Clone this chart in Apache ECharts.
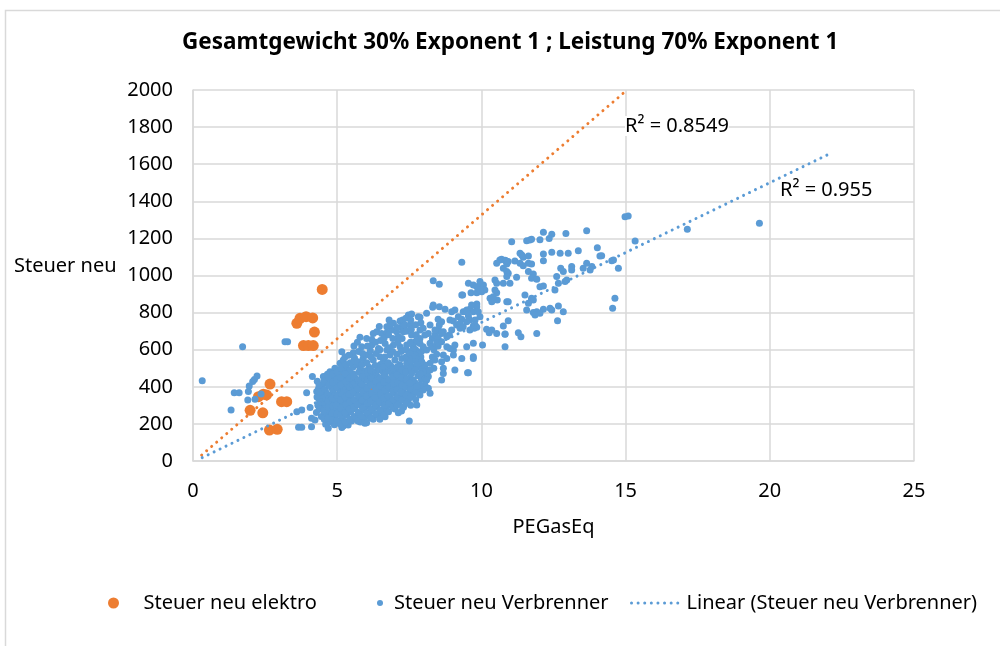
<!DOCTYPE html>
<html>
<head>
<meta charset="utf-8">
<script src="https://cdn.jsdelivr.net/npm/echarts@6/dist/echarts.min.js"></script>
<style>
html,body{margin:0;padding:0;background:#fff;}
#main{width:1000px;height:646px;}
</style>
</head>
<body>
<div id="main"></div>
<script>
var titleText = 'Gesamtgewicht 30% Exponent 1 ; Leistung 70% Exponent 1';
var xTicks = [0, 25, 5];
var yTicks = [0, 2000, 200];

// Steuer neu elektro  [PEGasEq, Steuer]
var elektroPts = [
	[6.2,365],
	[4.48,925],[3.6,742],[3.71,769],[3.92,778],[4.15,771],[4.21,695],
	[3.83,622],[4.0,622],[4.17,622],[5.1,481],[2.67,415],[2.27,347],
	[2.44,360],[2.55,356],[3.07,320],[3.25,320],[1.98,273],[2.42,260],
	[2.65,167],[2.92,171]
];

// Steuer neu Verbrenner
var verbrennerPts = [
	// links, vereinzelt
	[0.32,433],[1.32,275],[1.43,368],[1.6,368],[1.72,616],[1.9,329],[1.92,374],[1.95,404],
	[2.07,428],[2.13,440],[2.22,458],[2.15,333],[2.36,361],[3.19,643],[3.28,643],[3.6,266],
	[3.66,182],[3.77,182],[3.77,275],[3.94,368],[4.06,289],[4.11,185],[4.11,230],[4.14,455],
	[4.23,221],[4.29,374],[4.37,333],[4.69,176],[5.16,180],[5.96,203],[7.5,216],
	// dichte Wolke
	[4.28,262],[4.33,300],[4.3,345],[4.35,390],[4.31,430],
	[4.45,240],[4.48,285],[4.42,320],[4.5,360],[4.46,405],[4.52,455],
	[4.6,198],[4.62,255],[4.58,300],[4.65,335],[4.6,372],[4.63,420],[4.66,468],
	[4.76,210],[4.74,270],[4.78,310],[4.72,350],[4.8,395],[4.77,440],[4.75,481],
	[4.9,195],[4.88,240],[4.93,285],[4.91,322],[4.87,365],[4.95,410],[4.92,452],[4.92,500],
	[5.05,205],[5.02,262],[5.08,300],[5.04,340],[5.1,380],[5.06,420],[5.03,460],[5.1,527],
	[5.21,189],[5.18,230],[5.22,275],[5.2,318],[5.25,355],[5.17,398],[5.23,440],[5.2,485],[5.21,544],[5.16,589],
	[5.38,194],[5.33,250],[5.36,295],[5.32,335],[5.4,372],[5.35,415],[5.38,458],[5.33,500],
	[5.5,215],[5.47,265],[5.53,305],[5.48,350],[5.52,390],[5.46,432],[5.55,470],[5.44,491],[5.56,508],[5.56,584],
	[5.65,235],[5.62,282],[5.68,325],[5.64,365],[5.7,405],[5.63,448],[5.67,520],[5.6,555],
	[5.8,210],[5.78,258],[5.83,300],[5.79,342],[5.82,385],[5.77,425],[5.85,465],[5.8,500],[5.85,616],[5.79,667],
	[5.95,230],[5.92,275],[5.98,318],[5.93,360],[5.97,400],[5.9,440],[5.96,485],[5.9,553],[6.02,571],[6.02,661],
	[6.02,206],[6.1,250],[6.08,295],[6.12,338],[6.06,378],[6.13,420],[6.09,462],[6.1,505],[6.15,595],
	[6.25,225],[6.22,272],[6.28,312],[6.24,355],[6.3,398],[6.23,440],[6.27,480],[6.25,544],[6.2,625],[6.25,688],
	[6.42,245],[6.38,290],[6.44,332],[6.4,372],[6.45,415],[6.37,458],[6.43,498],[6.48,562],[6.43,607],[6.37,697],
	[6.55,265],[6.58,310],[6.52,350],[6.57,392],[6.53,435],[6.6,478],[6.6,535],[6.54,688],[6.5,650],
	[6.66,239],[6.7,285],[6.73,330],[6.68,372],[6.72,412],[6.67,455],[6.74,495],[6.72,598],[6.66,634],[6.72,692],[6.72,724],
	[6.86,300],[6.83,345],[6.88,388],[6.84,430],[6.9,472],[6.85,515],[6.83,571],[6.95,625],[6.89,706],[6.83,733],[6.95,742],
	[7.0,280],[7.02,325],[6.98,365],[7.04,408],[7.0,450],[7.05,490],[7.0,544],[7.06,697],[7.12,670],[7.12,260],
	[7.15,310],[7.18,352],[7.14,395],[7.2,435],[7.16,476],[7.18,518],[7.24,553],[7.18,616],[7.18,755],[7.27,760],[7.24,724],
	[7.3,290],[7.33,340],[7.28,380],[7.34,420],[7.3,462],[7.35,500],[7.29,697],[7.35,733],[7.41,527],[7.41,625],
	[7.47,330],[7.5,370],[7.45,410],[7.52,450],[7.48,590],[7.47,787],[7.52,733],[7.58,562],[7.58,679],[7.58,792],
	[7.64,616],[7.65,360],[7.62,510],[7.68,640],[7.66,400],[7.81,778],[7.8,460],[7.87,634],[7.87,706],
	// Wolke, zweite Lage
	[4.38,280],[4.4,370],[4.37,410],
	[4.55,225],[4.53,270],[4.56,315],[4.52,340],[4.57,385],[4.54,430],
	[4.68,230],[4.7,290],[4.69,325],[4.67,360],[4.71,410],[4.7,450],
	[4.84,222],[4.82,258],[4.85,295],[4.83,338],[4.86,380],[4.84,425],[4.85,470],
	[4.98,220],[5.0,252],[4.97,300],[4.99,355],[5.0,395],[4.98,440],[5.0,480],
	[5.12,198],[5.14,245],[5.13,285],[5.12,330],[5.15,365],[5.13,410],[5.12,450],[5.14,500],
	[5.28,210],[5.27,262],[5.3,305],[5.28,345],[5.29,385],[5.3,428],[5.27,470],[5.3,520],[5.27,560],
	[5.43,225],[5.42,280],[5.44,320],[5.41,360],[5.43,400],[5.42,445],[5.45,530],[5.4,570],
	[5.58,240],[5.57,290],[5.59,330],[5.56,372],[5.58,415],[5.57,455],[5.59,540],[5.58,620],
	[5.72,215],[5.73,262],[5.71,305],[5.74,350],[5.72,390],[5.73,435],[5.75,480],[5.72,535],[5.74,590],[5.7,640],
	[5.87,240],[5.88,285],[5.86,328],[5.89,372],[5.87,412],[5.88,455],[5.86,520],[5.88,580],
	[6.03,262],[6.04,310],[6.02,350],[6.04,392],[6.03,435],[6.05,478],[6.03,530],[6.05,620],
	[6.17,232],[6.18,280],[6.16,322],[6.19,365],[6.17,408],[6.18,450],[6.16,490],[6.18,560],[6.2,655],
	[6.33,255],[6.34,300],[6.32,342],[6.35,385],[6.33,428],[6.34,470],[6.32,515],[6.35,580],[6.33,640],
	[6.48,225],[6.49,275],[6.47,320],[6.5,362],[6.48,405],[6.49,448],[6.47,490],[6.5,520],[6.48,600],[6.46,725],
	[6.63,250],[6.64,300],[6.62,340],[6.65,382],[6.63,425],[6.64,465],[6.62,510],[6.65,560],[6.63,665],
	[6.78,265],[6.79,310],[6.77,352],[6.8,398],[6.78,440],[6.79,485],[6.77,530],[6.8,610],[6.78,680],[6.8,760],
	[6.93,290],[6.94,330],[6.92,375],[6.95,418],[6.93,455],[6.94,500],[6.92,590],[6.93,660],
	[7.08,300],[7.09,345],[7.07,385],[7.1,425],[7.08,465],[7.09,510],[7.07,575],[7.1,640],[7.08,720],
	[7.23,270],[7.24,330],[7.22,370],[7.25,410],[7.23,450],[7.24,490],[7.22,590],[7.25,660],
	[7.38,310],[7.39,355],[7.37,400],[7.4,440],[7.38,480],[7.39,560],[7.37,600],[7.4,700],[7.38,770],
	[7.55,300],[7.56,345],[7.54,390],[7.57,430],[7.55,500],[7.56,540],[7.54,640],[7.57,710],[7.55,760],
	[7.72,330],[7.73,375],[7.71,420],[7.73,545],[7.72,600],[7.74,680],[7.72,735],
	[7.9,390],[7.92,440],[7.91,500],[7.9,560],[7.92,590],[7.9,745],
	[8.05,450],[8.12,470],[8.3,560],[8.35,600],[8.3,660],[8.4,680],[8.45,575],[8.5,620],[8.55,700],[8.35,500],
	// 8 bis 10
	[9.32,1071],[8.33,972],[8.54,953],[9.55,958],[9.72,949],[9.95,949],[10.07,949],[9.64,907],[9.84,907],
	[10.01,913],[10.12,922],[9.32,895],[10.53,907],[10.55,868],[10.3,877],[10.36,859],[10.93,859],[9.84,846],
	[9.84,832],[8.33,841],[8.31,829],[8.54,832],[8.74,818],[8.1,796],[7.87,775],[8.97,805],[9.08,814],[9.37,805],
	[9.49,814],[9.6,818],[9.72,805],[9.89,805],[9.95,778],[8.5,764],[8.62,751],[8.54,733],[8.91,760],[9.03,755],
	[9.2,778],[9.32,764],[9.55,782],[9.6,760],[9.49,751],[9.78,760],[9.84,721],[10.18,710],[10.36,706],[10.53,688],
	[10.82,685],[9.6,706],[9.72,728],[9.14,733],[9.26,715],[8.97,706],[8.89,679],[8.68,697],[8.8,670],[8.62,688],
	[8.22,733],[8.39,706],[8.16,688],[8.04,679],[7.98,715],[7.87,661],[7.76,652],[8.5,661],[8.62,643],[8.45,635],
	[8.22,635],[8.28,616],[8.1,598],[7.98,616],[7.81,580],[7.64,598],[7.7,571],[7.52,580],[8.8,616],[8.91,607],
	[9.03,598],[9.03,571],[9.72,635],[9.32,553],[9.72,553],[8.68,571],[8.8,553],[8.62,535],[8.39,544],[8.22,527],
	[8.04,517],[7.93,535],[7.76,517],[8.1,491],[7.98,481],[7.87,472],[7.7,491],[7.58,472],[9.08,491],[9.55,476],
	[8.68,500],[8.68,472],[8.62,437],[8.22,491],[8.16,455],[8.1,437],[8.04,410],[8.16,392],[8.22,365],[7.98,383],
	[7.87,410],[7.76,401],[7.64,437],[7.52,419],[7.87,356],[7.76,302],
	[9.75,715],[9.78,733],[9.72,562],[10.04,625],[9.52,476],[9.35,895],[9.49,805],[10.27,692],[9.26,742],[9.37,724],
	[9.08,625],[9.49,616],[10.41,886],[10.47,922],[9.84,940],[9.95,922],[9.95,967],[9.66,841],
	// rechts
	[14.98,1317],[15.09,1321],[13.65,1241],[12.93,1227],[12.44,1222],[12.15,1233],[12.35,1200],[12.03,1193],
	[11.57,1188],[11.68,1191],[11.74,1195],[11.05,1182],[11.34,1120],[11.4,1111],[11.45,1098],[11.63,1105],
	[12.15,1116],[12.44,1125],[12.73,1120],[13.01,1120],[13.36,1134],[14.02,1150],[14.11,1105],
	[10.64,1084],[10.82,1082],[10.93,1075],[11.16,1078],[12.15,1080],[11.34,1066],[11.45,1053],[11.63,1066],
	[11.74,1062],[13.65,1066],[12.75,1039],[12.84,1021],[13.13,1048],[13.13,1030],[13.53,1039],[13.83,1048],
	[13.77,1030],[14.52,1080],[14.58,1084],[14.75,1039],[14.63,877],[14.55,823],
	[10.76,1039],[10.88,1021],[10.53,1066],[10.88,1062],[10.93,1012],[10.88,994],[10.99,958],[10.47,976],
	[10.53,958],[10.76,958],[11.22,990],[11.63,1021],[11.8,1008],[11.74,985],[11.92,980],[12.61,994],
	[12.96,976],[12.9,967],[12.67,958],[12.55,922],[12.03,940],[12.15,943],[11.51,895],[11.74,877],[11.8,868],
	[11.63,850],[11.57,814],[10.88,859],[12.15,818],[12.38,823],[12.44,814],[12.67,836],[12.84,805],[11.8,800],
	[11.92,805],[12.03,796],[11.86,787],[12.64,756],[10.93,756],[10.76,728],[10.82,683],[11.28,692],[11.37,670],
	[11.92,688],[10.82,616],[10.7,1087],[10.85,1080],
	[15.33,1186],[17.14,1249],[19.64,1281],[14.17,1107]
];

// Trendlinien (Anfang, Ende)
var trendElektro = [[0.3, 32], [15.05, 2000]];
var trendVerbrenner = [[0.32, 18], [22.15, 1662]];
var r2Elektro = 'R² = 0.8549';
var r2Verbrenner = 'R² = 0.955';

var FONT = '"Noto Sans", sans-serif';
var ORANGE = '#ED7D31', BLUE = '#5B9BD5', GRID = '#D9D9D9';
var dots = [0.01, 6.6];

var myChart = echarts.init(document.getElementById('main'));
var option = {
	animation: false,
	backgroundColor: '#fff',
	textStyle: {fontFamily: FONT, color: '#000'},
	title: {
		text: titleText,
		left: 177,
		top: 26,
		textStyle: {fontFamily: FONT, fontSize: 22.5, fontWeight: 'bold', color: '#000'}
	},
	grid: {left: 193, right: 86, top: 90, bottom: 185},
	xAxis: {
		type: 'value',
		min: xTicks[0], max: xTicks[1], interval: xTicks[2],
		name: 'PEGasEq',
		nameLocation: 'middle',
		nameGap: 56,
		nameTextStyle: {fontFamily: FONT, fontSize: 20, color: '#000'},
		axisLine: {show: true, lineStyle: {color: GRID, width: 1.5}},
		axisTick: {show: false},
		axisLabel: {fontFamily: FONT, fontSize: 20, color: '#000', margin: 20},
		splitLine: {show: true, lineStyle: {color: GRID, width: 1.5}}
	},
	yAxis: {
		type: 'value',
		min: yTicks[0], max: yTicks[1], interval: yTicks[2],
		axisLine: {show: true, lineStyle: {color: GRID, width: 1.5}},
		axisTick: {show: false},
		axisLabel: {fontFamily: FONT, fontSize: 20, color: '#000', margin: 20,
			formatter: function(v){ return String(v); }},
		splitLine: {show: true, lineStyle: {color: GRID, width: 1.5}}
	},
	legend: [
		{data: ['Steuer neu elektro'], left: 103, top: 588, itemWidth: 50, itemHeight: 11,
			textStyle: {fontFamily: FONT, fontSize: 20, color: '#000'}},
		{data: ['Steuer neu Verbrenner'], left: 372, top: 588, itemWidth: 18, itemHeight: 6,
			textStyle: {fontFamily: FONT, fontSize: 20, color: '#000'}},
		{data: ['Linear (Steuer neu Verbrenner)'], left: 625, top: 588, itemWidth: 50, itemHeight: 6,
			itemStyle: {opacity: 0},
			lineStyle: {width: 3, type: dots, cap: 'round', color: BLUE},
			textStyle: {fontFamily: FONT, fontSize: 20, color: '#000'}}
	],
	graphic: [
		{type: 'rect', left: 3, top: 8, shape: {width: 1010, height: 660}, silent: true,
			style: {fill: 'none', stroke: GRID, lineWidth: 1.5}},
		{type: 'text', left: 14, top: 256, silent: true,
			style: {text: 'Steuer neu', font: '20px ' + FONT, fill: '#000'}},
		{type: 'text', left: 625, top: 116, silent: true, z: 10,
			style: {text: r2Elektro, font: '20px ' + FONT, fill: '#000', backgroundColor: '#fff'}},
		{type: 'text', left: 780, top: 180, silent: true, z: 10,
			style: {text: r2Verbrenner, font: '20px ' + FONT, fill: '#000'}}
	],
	series: [
		{
			name: 'Steuer neu elektro',
			type: 'scatter',
			symbol: 'circle',
			symbolSize: 11,
			itemStyle: {color: ORANGE, opacity: 1},
			data: elektroPts,
			z: 2
		},
		{
			name: 'Steuer neu Verbrenner',
			type: 'scatter',
			symbol: 'circle',
			symbolSize: 7,
			itemStyle: {color: BLUE, opacity: 1},
			data: verbrennerPts,
			z: 3
		},
		{
			name: 'Linear (Steuer neu elektro)',
			type: 'line',
			symbol: 'none',
			silent: true,
			lineStyle: {color: ORANGE, width: 3, type: dots, cap: 'round'},
			data: trendElektro,
			z: 4
		},
		{
			name: 'Linear (Steuer neu Verbrenner)',
			type: 'line',
			symbol: 'none',
			silent: true,
			itemStyle: {color: BLUE},
			lineStyle: {color: BLUE, width: 3, type: dots, cap: 'round'},
			data: trendVerbrenner,
			z: 4
		}
	]
};
myChart.setOption(option);
</script>
</body>
</html>
